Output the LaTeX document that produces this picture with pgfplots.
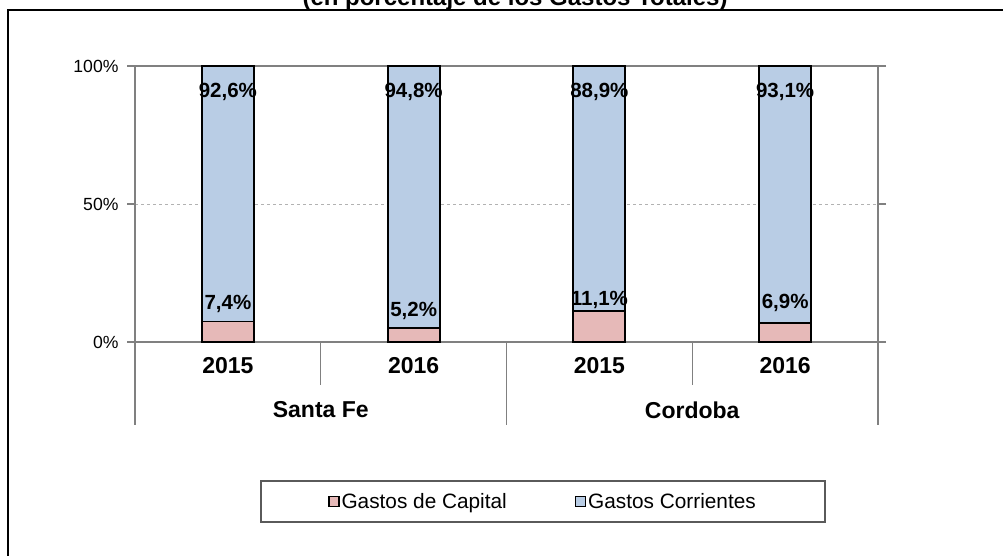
\documentclass[border=0pt]{standalone}
\usepackage{pgfplots}
\pgfplotsset{compat=1.18}
\usepackage{fontspec}
\setmainfont{Liberation Sans}
\definecolor{capc}{HTML}{E6B9B8}
\definecolor{corc}{HTML}{B9CDE5}
\definecolor{axgray}{HTML}{808080}
\begin{document}
\begin{tikzpicture}[x=1pt,y=1pt]
\path[use as bounding box, clip] (0,0) rectangle (1003,555);
\fill[white] (0,0) rectangle (1003,555);
% outer chart frame
\draw[black, line width=2pt] (8,-10) -- (8,545) -- (1020,545);
% title (cut at top, as in the reference)
\node[anchor=base, inner sep=0pt] at (515,549) {\bfseries\fontsize{24}{26}\selectfont (en porcentaje de los Gastos Totales)};
\begin{axis}[
  at={(135pt,213pt)}, anchor=south west,
  scale only axis, width=743pt, height=276pt,
  xmin=-0.5, xmax=3.5, ymin=0, ymax=100,
  ybar stacked, bar width=52pt,
  xtick=\empty,
  ytick={0,50,100}, yticklabels={0\%,50\%,100\%},
  yticklabel style={font=\fontsize{17.6}{19}\selectfont, text=black, xshift=-5pt},
  tick align=outside, major tick length=8pt,
  ytick style={axgray, line width=1.3pt},
  axis line style={axgray, line width=1.5pt},
  ymajorgrids, grid style={dashed, black!30, line width=0.8pt},
  clip=false,
  legend style={at={(0.2598,-0.578)}, anchor=west, draw=none, fill=none, inner sep=0pt,
    font=\fontsize{20.8}{22}\selectfont, /tikz/every even column/.append style={column sep=66pt}},
  legend columns=2,
  legend image code/.code={\draw[#1, draw=black, line width=1.3pt] (0pt,-5pt) rectangle (10pt,5pt);},
]
\addplot[fill=capc, draw=black, line width=1.8pt]
  coordinates {(0,7.4) (1,5.2) (2,11.1) (3,6.9)};
\addplot[fill=corc, draw=black, line width=1.8pt]
  coordinates {(0,92.6) (1,94.8) (2,88.9) (3,93.1)};
\legend{Gastos de Capital, Gastos Corrientes}
% anchor points for data labels
\coordinate (t0) at (axis cs:0,100);
\coordinate (t1) at (axis cs:1,100);
\coordinate (t2) at (axis cs:2,100);
\coordinate (t3) at (axis cs:3,100);
\coordinate (b0) at (axis cs:0,7.4);
\coordinate (b1) at (axis cs:1,5.2);
\coordinate (b2) at (axis cs:2,11.1);
\coordinate (b3) at (axis cs:3,6.9);
% category axis separators
\draw[axgray, line width=1.3pt] (axis cs:-0.5,0) -- ([yshift=-83pt]axis cs:-0.5,0);
\draw[axgray, line width=1.3pt] (axis cs:0.5,0) -- ([yshift=-43pt]axis cs:0.5,0);
\draw[axgray, line width=1.3pt] (axis cs:1.5,0) -- ([yshift=-83pt]axis cs:1.5,0);
\draw[axgray, line width=1.3pt] (axis cs:2.5,0) -- ([yshift=-43pt]axis cs:2.5,0);
\draw[axgray, line width=1.3pt] (axis cs:3.5,0) -- ([yshift=-83pt]axis cs:3.5,0);
\tikzset{cl/.style={font=\bfseries\fontsize{23}{25}\selectfont, text=black}}
\node[cl, yshift=-24pt] at (axis cs:0,0) {2015};
\node[cl, yshift=-24pt] at (axis cs:1,0) {2016};
\node[cl, yshift=-24pt] at (axis cs:2,0) {2015};
\node[cl, yshift=-24pt] at (axis cs:3,0) {2016};
\node[cl, yshift=-68pt] at (axis cs:0.5,0) {Santa Fe};
\node[cl, yshift=-68pt] at (axis cs:2.5,0) {Cordoba};
\end{axis}
% data labels (drawn on top of the bars)
\tikzset{dl/.style={font=\bfseries\fontsize{20.5}{22}\selectfont, anchor=center, inner sep=0pt, text=black}}
\node[dl, yshift=-26pt] at (t0) {92,6\%};
\node[dl, yshift=-26pt] at (t1) {94,8\%};
\node[dl, yshift=-26pt] at (t2) {88,9\%};
\node[dl, yshift=-26pt] at (t3) {93,1\%};
\node[dl, yshift=18pt] at (b0) {7,4\%};
\node[dl, yshift=17pt] at (b1) {5,2\%};
\node[dl, yshift=11pt] at (b2) {11,1\%};
\node[dl, yshift=20pt] at (b3) {6,9\%};
% legend frame
\draw[axgray!70!black, line width=1.3pt] (261,74) rectangle (825,33);
\end{tikzpicture}
\end{document}
